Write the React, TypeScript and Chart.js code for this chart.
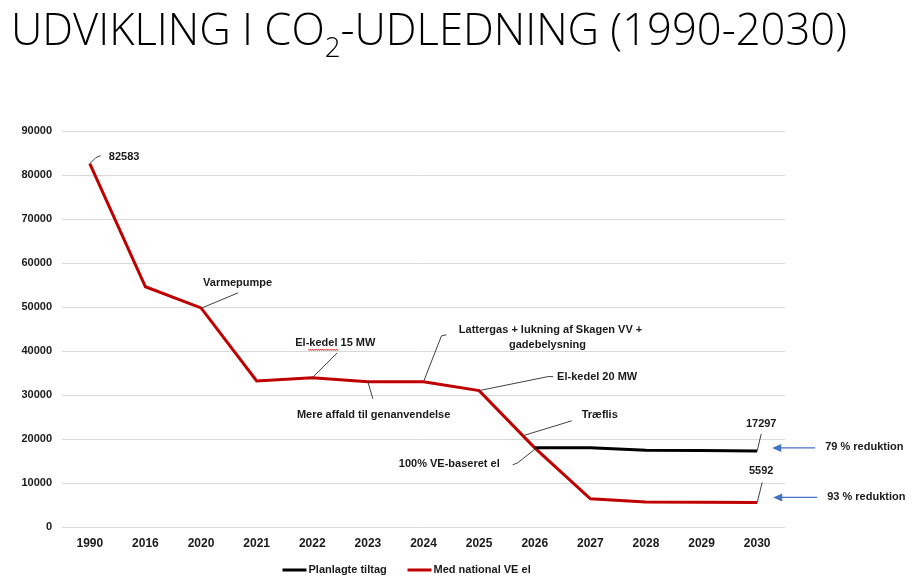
import React, { useEffect, useRef } from "react";
import { Chart, registerables } from "chart.js";

Chart.register(...registerables);

const categories = ["1990", "2016", "2020", "2021", "2022", "2023", "2024", "2025", "2026", "2027", "2028", "2029", "2030"];
const medNationalVeEl = [82583, 54600, 49800, 33200, 33900, 33000, 33000, 31000, 18000, 6400, 5700, 5650, 5592];
const planlagteTiltag = [null, null, null, null, null, null, null, null, 18000, 18000, 17450, 17400, 17297];
const yTicks = [0, 10000, 20000, 30000, 40000, 50000, 60000, 70000, 80000, 90000];
const seriesNames = ["Planlagte tiltag", "Med national VE el"];
const titleMain = "UDVIKLING I CO";
const titleSub = "2";
const titleRest = "-UDLEDNING (1990-2030)";
const annotationTexts = {
  start: "82583",
  varmepumpe: "Varmepumpe",
  elkedel15: "El-kedel 15 MW",
  affald: "Mere affald til genanvendelse",
  lattergas1: "Lattergas + lukning af Skagen VV +",
  lattergas2: "gadebelysning",
  elkedel20: "El-kedel 20 MW",
  traeflis: "Træflis",
  ve: "100% VE-baseret el",
  endBlack: "17297",
  endRed: "5592",
  red79: "79 % reduktion",
  red93: "93 % reduktion",
};

const FONT = "'Liberation Sans', Arial, sans-serif";
const RED = "#c00000";
const BLACK = "#000000";
const TEXT = "#1a1a1a";
const LEADER = "#404040";
const BLUE = "#4472c4";

const annotPlugin = {
  id: "annot",
  afterDatasetsDraw(chart: any) {
    const { ctx, scales } = chart;
    const x = scales.x;
    const y = scales.y;
    const P = (i: number, v: number) => [x.getPixelForValue(i), y.getPixelForValue(v)];
    const red = (i: number) => P(i, medNationalVeEl[i] as number);
    const blk = (i: number) => P(i, planlagteTiltag[i] as number);

    ctx.save();
    ctx.font = `bold 11px ${FONT}`;
    ctx.textBaseline = "middle";

    const leader = (p: number[], pts: number[][]) => {
      ctx.beginPath();
      ctx.strokeStyle = LEADER;
      ctx.lineWidth = 1;
      pts.forEach((d, k) => {
        const px = p[0] + d[0];
        const py = p[1] + d[1];
        if (k === 0) ctx.moveTo(px, py);
        else ctx.lineTo(px, py);
      });
      ctx.stroke();
    };
    const text = (t: string, p: number[], dx: number, dy: number, align: CanvasTextAlign) => {
      ctx.fillStyle = TEXT;
      ctx.textAlign = align;
      ctx.fillText(t, p[0] + dx, p[1] + dy);
    };

    // 82583
    let p = red(0);
    leader(p, [[0, 0], [6, -6], [11, -8]]);
    text(annotationTexts.start, p, 19, -7, "left");

    // Varmepumpe
    p = red(2);
    leader(p, [[1, 0], [37, -15]]);
    text(annotationTexts.varmepumpe, p, 2, -25, "left");

    // El-kedel 15 MW
    p = red(4);
    leader(p, [[0, 0], [25, -25]]);
    text(annotationTexts.elkedel15, p, -17, -35, "left");
    // spell-check squiggle under "kedel"
    {
      ctx.beginPath();
      ctx.strokeStyle = "#e03030";
      ctx.lineWidth = 0.8;
      const sx = p[0] - 4;
      const sy = p[1] - 28;
      for (let k = 0; k <= 30; k++) {
        const xx = sx + k;
        const yy = sy + (k % 2 === 0 ? -0.8 : 0.8);
        if (k === 0) ctx.moveTo(xx, yy);
        else ctx.lineTo(xx, yy);
      }
      ctx.stroke();
    }

    // Mere affald
    p = red(5);
    leader(p, [[0, 0], [5, 17]]);
    text(annotationTexts.affald, p, -71, 33, "left");

    // Lattergas
    p = red(6);
    leader(p, [[0, 0], [18, -46], [23, -47]]);
    text(annotationTexts.lattergas1, p, 127, -52, "center");
    text(annotationTexts.lattergas2, p, 124, -37, "center");

    // El-kedel 20 MW
    p = red(7);
    leader(p, [[0, 0], [69, -14], [74, -14]]);
    text(annotationTexts.elkedel20, p, 78, -14, "left");

    // Træflis
    p = red(8);
    leader(p, [[-12, -12], [37, -27]]);
    text(annotationTexts.traeflis, p, 47, -33, "left");

    // 100% VE-baseret el
    p = blk(8);
    leader(p, [[2, 0], [-12, 11], [-17, 15], [-22, 17]]);
    text(annotationTexts.ve, p, -35, 16, "right");

    const arrow = (q: number[], x1: number, x2: number, dy: number) => {
      ctx.beginPath();
      ctx.strokeStyle = BLUE;
      ctx.lineWidth = 1.3;
      ctx.moveTo(q[0] + x1, q[1] + dy);
      ctx.lineTo(q[0] + x2 + 6, q[1] + dy);
      ctx.stroke();
      ctx.beginPath();
      ctx.fillStyle = BLUE;
      ctx.moveTo(q[0] + x2, q[1] + dy);
      ctx.lineTo(q[0] + x2 + 9, q[1] + dy - 4);
      ctx.lineTo(q[0] + x2 + 9, q[1] + dy + 4);
      ctx.closePath();
      ctx.fill();
    };

    // 17297
    p = blk(12);
    leader(p, [[0, 0], [4, -17]]);
    text(annotationTexts.endBlack, p, 4, -27, "center");
    arrow(p, 58, 15, -3);
    text(annotationTexts.red79, p, 68, -4, "left");

    // 5592
    p = red(12);
    leader(p, [[0, 0], [5, -20]]);
    text(annotationTexts.endRed, p, 4, -31, "center");
    arrow(p, 60, 16, -5);
    text(annotationTexts.red93, p, 70, -5, "left");

    ctx.restore();
  },
  afterDraw(chart: any) {
    const { ctx, chartArea } = chart;
    const cx = (chartArea.left + chartArea.right) / 2;
    const ly = 570;
    ctx.save();
    ctx.font = `bold 11px ${FONT}`;
    ctx.textBaseline = "middle";
    ctx.textAlign = "left";
    const item = (x0: number, color: string, label: string) => {
      ctx.fillStyle = color;
      ctx.fillRect(x0, ly - 1.5, 24, 3);
      ctx.fillStyle = TEXT;
      ctx.fillText(label, x0 + 26, ly);
    };
    item(cx - 141, BLACK, seriesNames[0]);
    item(cx - 16, RED, seriesNames[1]);
    ctx.restore();
  },
};

export default function App() {
  const canvasRef = useRef<HTMLCanvasElement | null>(null);
  const titleRef = useRef<HTMLDivElement | null>(null);

  useEffect(() => {
    const t = titleRef.current;
    if (t) {
      t.style.transform = "none";
      const w = t.getBoundingClientRect().width;
      const target = 836;
      if (w > 0) t.style.transform = `scaleX(${target / w})`;
    }
    const canvas = canvasRef.current;
    if (!canvas) return;
    const chart = new Chart(canvas, {
      type: "line",
      data: {
        labels: categories,
        datasets: [
          {
            label: seriesNames[0],
            data: planlagteTiltag,
            borderColor: BLACK,
            backgroundColor: BLACK,
            borderWidth: 3,
            pointRadius: 0,
            tension: 0,
            spanGaps: false,
          },
          {
            label: seriesNames[1],
            data: medNationalVeEl,
            borderColor: RED,
            backgroundColor: RED,
            borderWidth: 3,
            pointRadius: 0,
            tension: 0,
          },
        ],
      },
      options: {
        animation: false,
        responsive: false,
        devicePixelRatio: 1,
        layout: { padding: { left: 0, right: 127, top: 131, bottom: 30 } },
        plugins: { legend: { display: false }, tooltip: { enabled: false }, title: { display: false } },
        scales: {
          x: {
            type: "category",
            offset: true,
            grid: { display: false, drawTicks: false },
            border: { display: false },
            ticks: { color: TEXT, font: { family: FONT, size: 12, weight: "bold" }, padding: 9, maxRotation: 0, autoSkip: false },
            afterFit: (s: any) => { s.height = 30; },
          },
          y: {
            min: 0,
            max: 90000,
            afterBuildTicks: (s: any) => { s.ticks = yTicks.map((v) => ({ value: v })); },
            grid: { color: "#d9d9d9", lineWidth: 1, drawTicks: false },
            border: { display: false },
            ticks: {
              color: TEXT,
              font: { family: FONT, size: 11, weight: "bold" },
              padding: 10,
              callback: (v: any) => String(v),
            },
            afterFit: (s: any) => { s.width = 62; },
          },
        },
      },
      plugins: [annotPlugin],
    } as any);
    return () => chart.destroy();
  }, []);

  return (
    <div style={{ position: "fixed", left: 0, top: 0, width: 912, height: 587, background: "#fff", overflow: "hidden" }}>
      <canvas ref={canvasRef} width={912} height={587} style={{ position: "absolute", left: 0, top: 0 }} />
      <div
        ref={titleRef}
        style={{
          position: "absolute",
          left: 11,
          top: 6,
          fontFamily: "'Open Sans', sans-serif",
          fontWeight: 300,
          fontSize: 44,
          lineHeight: "45px",
          whiteSpace: "nowrap",
          color: "#000",
          transformOrigin: "left top",
          display: "inline-block",
        }}
      >
        {titleMain}
        <span style={{ fontSize: 28, position: "relative", top: 12 }}>{titleSub}</span>
        {titleRest}
      </div>
    </div>
  );
}
